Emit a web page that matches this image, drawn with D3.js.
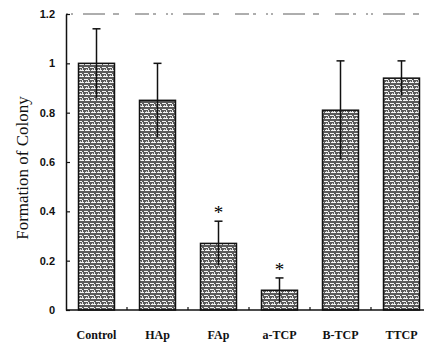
<!DOCTYPE html>
<html><head><meta charset="utf-8">
<script src="https://cdn.jsdelivr.net/npm/d3@7/dist/d3.min.js"></script>
<style>body{margin:0;background:#fff}svg{display:block}</style>
</head><body>
<svg id="c" width="424" height="347"></svg>
<script>
const categories = ["Control","HAp","FAp","a-TCP","B-TCP","TTCP"];
const values = [1.0, 0.85, 0.27, 0.08, 0.81, 0.94];
const errors = [0.14, 0.15, 0.09, 0.05, 0.20, 0.07];
const significant = [false, false, true, true, false, false];
const yTicks = [0, 0.2, 0.4, 0.6, 0.8, 1, 1.2];
const yTickLabels = ["0","0.2","0.4","0.6","0.8","1","1.2"];

const svg = d3.select("#c");
const x = d3.scaleBand().domain(categories).range([66, 432]).paddingInner(0.41).paddingOuter(0.205);
const y = d3.scaleLinear().domain([0, 1.2]).range([310, 14]);

// pattern
const defs = svg.append("defs");
const pat = defs.append("pattern").attr("id","tex").attr("patternUnits","userSpaceOnUse").attr("width",6).attr("height",6);
pat.append("rect").attr("width",6).attr("height",6).attr("fill","#5a5a5a");
pat.append("rect").attr("x",0).attr("y",1).attr("width",4).attr("height",1).attr("fill","#f4f4f4");
pat.append("rect").attr("x",1).attr("y",4).attr("width",5).attr("height",1).attr("fill","#f4f4f4");
pat.append("rect").attr("x",4).attr("y",2).attr("width",1).attr("height",2).attr("fill","#e8e8e8");
pat.append("rect").attr("x",2).attr("y",3).attr("width",1).attr("height",1).attr("fill","#cfcfcf");

// top dashed frame
svg.append("line").attr("x1",66).attr("x2",424).attr("y1",y(1.2)).attr("y2",y(1.2))
  .attr("stroke","#333").attr("stroke-width",0.8).attr("stroke-dasharray","2,3,2,10,22,8,6,16,14,4,3,10");

// bars
svg.selectAll("rect.bar").data(values).join("rect").attr("class","bar")
  .attr("x",(d,i)=>x(categories[i])).attr("width",x.bandwidth())
  .attr("y",d=>y(d)).attr("height",d=>y(0)-y(d))
  .attr("fill","url(#tex)").attr("stroke","#111").attr("stroke-width",1.5);

// error bars
const eb = svg.append("g").attr("stroke","#111").attr("stroke-width",1.5);
values.forEach((v,i)=>{
  const cx = x(categories[i]) + x.bandwidth()/2;
  eb.append("line").attr("x1",cx).attr("x2",cx).attr("y1",y(v-errors[i])).attr("y2",y(v+errors[i]));
  eb.append("line").attr("x1",cx-4).attr("x2",cx+4).attr("y1",y(v+errors[i])).attr("y2",y(v+errors[i]));
});

// stars
svg.selectAll("text.star").data(values.map((v,i)=>({v,i})).filter(d=>significant[d.i])).join("text")
  .attr("class","star").attr("x",d=>x(categories[d.i])+x.bandwidth()/2)
  .attr("y",d=>y(d.v+errors[d.i])-2).attr("text-anchor","middle")
  .attr("font-family","Liberation Serif").attr("font-size",19).text("*");

// y axis
const yAxis = d3.axisLeft(y).tickValues(yTicks).tickFormat((d,i)=>yTickLabels[i]).tickSizeInner(-4).tickSizeOuter(0).tickPadding(11);
const gy = svg.append("g").attr("transform","translate(66,0)").call(yAxis);
gy.select(".domain").attr("stroke","#111").attr("stroke-width",1.5);
gy.selectAll(".tick line").attr("stroke","#111").attr("stroke-width",1.2);
gy.selectAll(".tick text").attr("font-family","Liberation Sans Narrow, Liberation Sans").attr("font-weight","bold").attr("font-size",11).attr("fill","#111");

// x axis
const xAxis = d3.axisBottom(x).tickSize(0).tickPadding(20);
const gx = svg.append("g").attr("transform","translate(0,310)").call(xAxis);
gx.select(".domain").remove();
gx.append("line").attr("x1",66).attr("x2",424).attr("y1",0).attr("y2",0).attr("stroke","#111").attr("stroke-width",1.5);
categories.slice(1).forEach(c=>{
  const bx = x(c) - x.step()*x.paddingInner()/2;
  gx.append("line").attr("x1",bx).attr("x2",bx).attr("y1",0).attr("y2",-3).attr("stroke","#111").attr("stroke-width",1.2);
});
gx.selectAll(".tick text").attr("font-family","Liberation Serif").attr("font-weight","bold").attr("font-size",12).attr("fill","#111");

// y title
svg.append("text").attr("transform","translate(28,168) rotate(-90)").attr("text-anchor","middle")
  .attr("font-family","Liberation Serif").attr("font-size",17).attr("fill","#111").text("Formation of Colony");
</script>
</body></html>
